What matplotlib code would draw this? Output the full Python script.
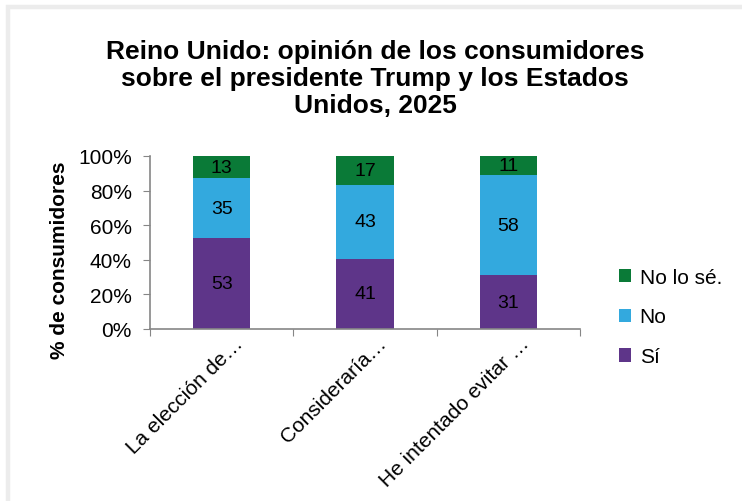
import matplotlib
matplotlib.use('Agg')
import matplotlib.pyplot as plt
import matplotlib.transforms as mtransforms
from matplotlib.patches import Rectangle
import numpy as np

plt.rcParams['font.family'] = ['Liberation Sans', 'DejaVu Sans']

# data
categories = ['La elección de…', 'Consideraría…', 'He intentado evitar …']
si = [53, 41, 31]
no = [35, 43, 58]
no_se = [13, 17, 11]
series_names = ['Sí', 'No', 'No lo sé.']
colors = ['#5E3589', '#33A9DE', '#0A7A37']

vals = np.array([si, no, no_se], dtype=float)
shares = vals / vals.sum(axis=0) * 100  # 100% stacked columns

fig = plt.figure(figsize=(7.42, 5.02), dpi=100)
ax = fig.add_axes([150/742, 1 - 330/502, 430/742, 173/502])

x = np.arange(len(categories))
bottom = np.zeros(len(categories))
handles = []
for i in range(3):
    b = ax.bar(x, shares[i], bottom=bottom, width=0.4, color=colors[i], label=series_names[i])
    handles.append(b)
    for xi, h, bt, v in zip(x, shares[i], bottom, vals[i]):
        ax.text(xi, bt + h/2, '%d' % v, ha='center', va='center', fontsize=14, color='black')
    bottom += shares[i]

ax.set_xlim(-0.5, 2.5)
ax.set_ylim(0, 100)
ax.set_yticks(range(0, 101, 20))
ax.set_yticklabels(['%d%%' % t for t in range(0, 101, 20)], fontsize=15)
ax.set_xticks([-0.5, 0.5, 1.5, 2.5], minor=False)
ax.set_xticklabels([])
ax.set_xticks(x, minor=True)
ax.set_xticklabels(categories, minor=True, fontsize=15)
ax.tick_params(axis='x', which='minor', length=0, pad=8)
ax.tick_params(axis='x', which='major', length=5, color='#868686', direction='out')
ax.tick_params(axis='y', length=5, color='#868686', direction='out', pad=8)

offset = mtransforms.ScaledTranslation(18/100, 0, fig.dpi_scale_trans)
for lab in ax.get_xticklabels(minor=True):
    lab.set_rotation(45)
    lab.set_ha('right')
    lab.set_va('center')
    lab.set_rotation_mode('anchor')
    lab.set_transform(lab.get_transform() + offset)

for s in ['top', 'right']:
    ax.spines[s].set_visible(False)
for s in ['left', 'bottom']:
    ax.spines[s].set_color('#868686')
    ax.spines[s].set_linewidth(1.2)

fig.text(60/742, 1 - 260/502, '% de consumidores', rotation=90, ha='center', va='center',
         fontsize=15, fontweight='bold')

fig.text(0.5 + 4/742, 1 - 79/502, 'Reino Unido: opinión de los consumidores\nsobre el presidente Trump y los Estados\nUnidos, 2025',
         ha='center', va='center', fontsize=19, fontweight='bold', linespacing=1.17)

leg = fig.legend(handles[::-1], series_names[::-1], loc='center left',
                 bbox_to_anchor=(600/742, 1 - 318/502), frameon=False, fontsize=15,
                 handlelength=0.6, handleheight=0.6, handletextpad=0.4, labelspacing=1.0)

# faint frame along top and left edge
fig.add_artist(Rectangle((8/742, -0.1), 2, 1 - 7.5/502 + 0.1, transform=fig.transFigure,
                         fill=False, edgecolor='#ececec', lw=3.2))

fig.savefig('out.png', dpi=100)
